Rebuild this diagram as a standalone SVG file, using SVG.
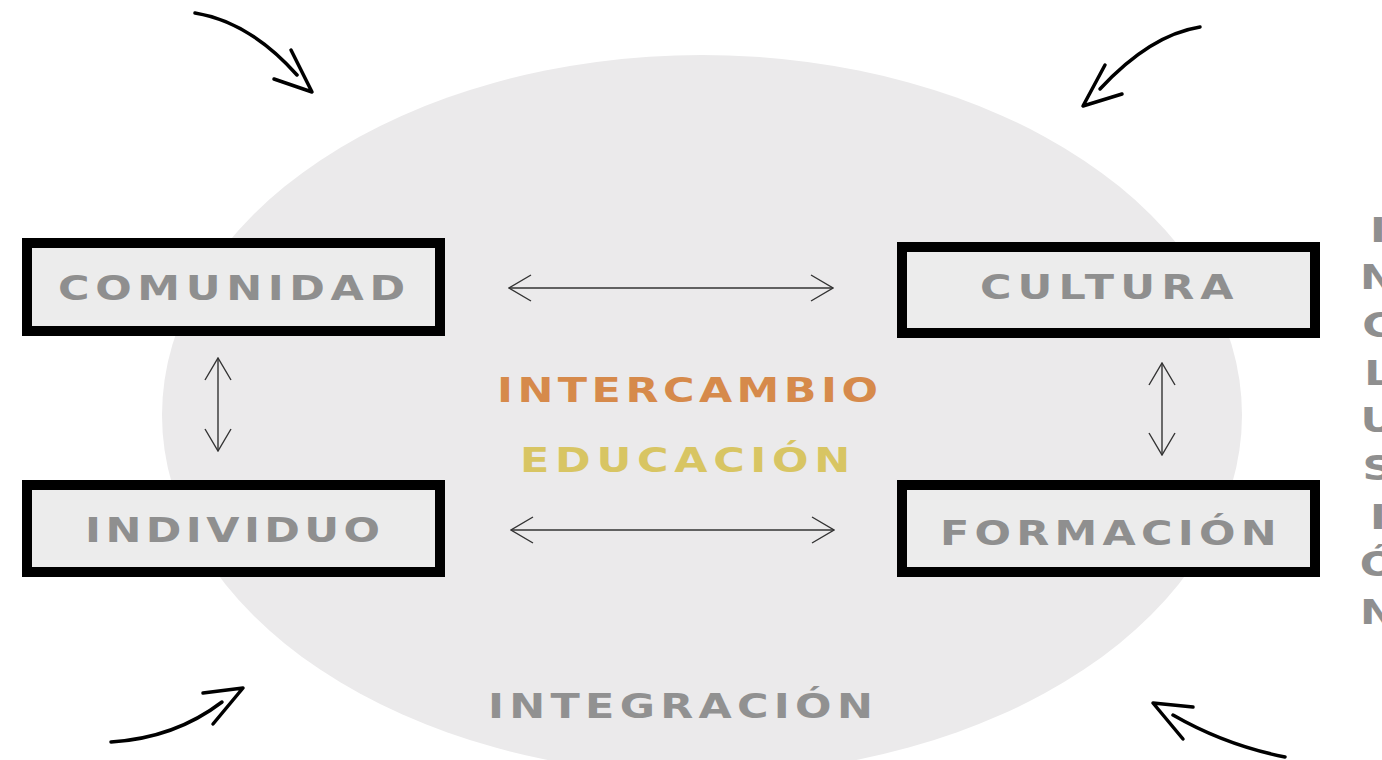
<svg xmlns="http://www.w3.org/2000/svg" width="1382" height="760" viewBox="0 0 1382 760">
<defs>
<style>
.box{fill:#ececec;stroke:#000;stroke-width:10}
.lbl{font-family:"DejaVu Sans","Liberation Sans",sans-serif;font-weight:bold;font-size:33px;fill:#8f8f8f}
.conn{stroke:#333;stroke-width:1.4;fill:none}
.hand{stroke:#000;stroke-width:3.5;fill:none;stroke-linecap:round;stroke-linejoin:round}
</style>
<marker id="v" viewBox="0 0 24 28" refX="23" refY="14" markerWidth="24" markerHeight="28" markerUnits="userSpaceOnUse" orient="auto-start-reverse">
<path d="M1,1 L23,14 L1,27" fill="none" stroke="#333" stroke-width="1.4"/>
</marker>
</defs>
<rect width="1382" height="760" fill="#fff"/>
<ellipse id="circle" cx="702" cy="415" rx="540" ry="360" fill="#ebeaeb"/>

<g id="comunidad">
<rect class="box" x="27" y="243" width="413" height="88"/>
<text class="lbl" transform="translate(58,300) scale(1.3,1)" textLength="267" lengthAdjust="spacing">COMUNIDAD</text>
</g>
<g id="individuo">
<rect class="box" x="27" y="485" width="413" height="87"/>
<text class="lbl" transform="translate(85,542) scale(1.3,1)" textLength="227" lengthAdjust="spacing">INDIVIDUO</text>
</g>
<g id="cultura">
<rect class="box" x="902" y="247" width="413" height="86"/>
<text class="lbl" transform="translate(980,299) scale(1.3,1)" textLength="195" lengthAdjust="spacing">CULTURA</text>
</g>
<g id="formacion">
<rect class="box" x="902" y="485" width="413" height="87"/>
<text class="lbl" transform="translate(940,545) scale(1.3,1)" textLength="259" lengthAdjust="spacing">FORMACIÓN</text>
</g>

<g id="center-labels">
<text class="lbl" transform="translate(497,402) scale(1.3,1)" textLength="293" lengthAdjust="spacing" style="fill:#d68a4b">INTERCAMBIO</text>
<text class="lbl" transform="translate(520,472) scale(1.3,1)" textLength="254" lengthAdjust="spacing" style="fill:#d8c563">EDUCACIÓN</text>
<text class="lbl" transform="translate(488,718) scale(1.3,1)" textLength="296" lengthAdjust="spacing" style="fill:#919191">INTEGRACIÓN</text>
</g>

<g id="inclusion" class="lbl" text-anchor="middle">
<text transform="translate(1378,242) scale(1.3,1)">I</text>
<text transform="translate(1378,289) scale(1.3,1)">N</text>
<text transform="translate(1378,337) scale(1.3,1)">C</text>
<text transform="translate(1378,385) scale(1.3,1)">L</text>
<text transform="translate(1378,432) scale(1.3,1)">U</text>
<text transform="translate(1378,480) scale(1.3,1)">S</text>
<text transform="translate(1378,529) scale(1.3,1)">I</text>
<text transform="translate(1378,576) scale(1.3,1)">Ó</text>
<text transform="translate(1378,624) scale(1.3,1)">N</text>
</g>

<g id="connectors">
<line class="conn" x1="509" y1="288" x2="833" y2="288" marker-start="url(#v)" marker-end="url(#v)"/>
<line class="conn" x1="511" y1="530" x2="834" y2="530" marker-start="url(#v)" marker-end="url(#v)"/>
<line class="conn" x1="218" y1="358" x2="218" y2="451" marker-start="url(#v)" marker-end="url(#v)"/>
<line class="conn" x1="1162" y1="363" x2="1162" y2="455" marker-start="url(#v)" marker-end="url(#v)"/>
</g>

<g id="corner-arrows">
<path class="hand" d="M195,13 Q250,22 297,75"/>
<path class="hand" d="M291,50 L312,92 L274,79"/>
<path class="hand" d="M1200,27 Q1150,35 1100,89"/>
<path class="hand" d="M1105,65 L1083,106 L1122,94"/>
<path class="hand" d="M111,742 Q175,738 222,702"/>
<path class="hand" d="M203,693 L243,688 L213,724"/>
<path class="hand" d="M1285,757 Q1225,745 1173,715"/>
<path class="hand" d="M1193,707 L1153,703 L1183,739"/>
</g>
</svg>
